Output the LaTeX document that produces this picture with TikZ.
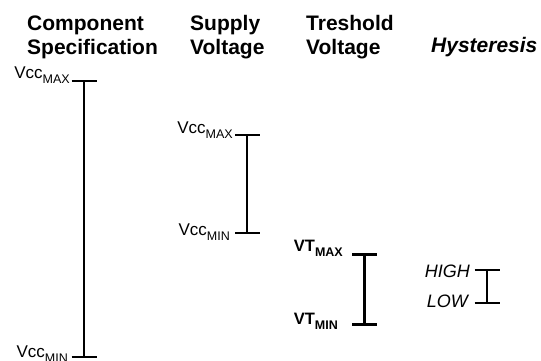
\documentclass[tikz,border=0pt]{standalone}
\usepackage{fontspec}
\setmainfont{Liberation Sans}
\usepackage{tikz}
\usetikzlibrary{positioning}
\newcommand\lsub[1]{\raisebox{-5pt}{\fontsize{12.5}{12.5}\selectfont #1}}

\begin{document}
\begin{tikzpicture}[x=1pt, y=-1pt,
        head/.style={font=\bfseries\fontsize{21}{24}\selectfont, align=left, inner sep=0pt, anchor=north west},
        lbl/.style={font=\fontsize{17}{20}\selectfont, inner sep=0pt, anchor=base east},
        vtlbl/.style={lbl, font=\bfseries\fontsize{16.5}{20}\selectfont},
        hylbl/.style={lbl, font=\itshape\fontsize{18}{20}\selectfont},
        bar/.style={line width=2pt},
        thickbar/.style={line width=3pt}
    ]
        \useasboundingbox (0,0) rectangle (541,360);
        % column headers
        \node[head] (hcomp) at (27,15.5) {Component\\Specification};
        \node[head] (hsup) at (190,15.5) {Supply\\Voltage};
        \node[head] (hthr) at (306,15) {Treshold\\Voltage};
        \node[head, anchor=base west, font=\bfseries\itshape\fontsize{21}{24}\selectfont] (hhys) at (431,52) {Hysteresis};
        % bar ends
        \coordinate (compmax) at (83.5,80.7);
        \coordinate (compmin) at (83.5,356.7);
        \coordinate (supmax) at (247,135);
        \coordinate (supmin) at (247,233.3);
        \coordinate (thrmax) at (364,254);
        \coordinate (thrmin) at (364,324.3);
        \coordinate (hyshigh) at (486.5,270);
        \coordinate (hyslow) at (486.5,302.7);
        % labels
        \node[lbl] (vccmaxA) at (70,78) {Vcc\lsub{MAX}};
        \node[lbl] (vccminA) at (68,357.5) {Vcc\lsub{MIN}};
        \node[lbl] (vccmaxB) at (233,133) {Vcc\lsub{MAX}};
        \node[lbl] (vccminB) at (230,235.5) {Vcc\lsub{MIN}};
        \node[vtlbl] (vtmax) at (343,251) {VT\lsub{MAX}};
        \node[vtlbl] (vtmin) at (338,324) {VT\lsub{MIN}};
        \node[hylbl] (high) at (470,277.7) {HIGH};
        \node[hylbl] (low) at (468,307.7) {LOW};
        % bars
        \draw[bar] (compmax) -- (compmin);
        \draw[bar] ([xshift=-12pt]compmax) -- ([xshift=13pt]compmax);
        \draw[bar] ([xshift=-12pt]compmin) -- ([xshift=13pt]compmin);
        \draw[bar] (supmax) -- (supmin);
        \draw[bar] ([xshift=-12pt]supmax) -- ([xshift=13pt]supmax);
        \draw[bar] ([xshift=-12pt]supmin) -- ([xshift=13pt]supmin);
        \draw[thickbar] (thrmax) -- (thrmin);
        \draw[thickbar] ([xshift=-12pt]thrmax) -- ([xshift=13pt]thrmax);
        \draw[thickbar] ([xshift=-12pt]thrmin) -- ([xshift=13pt]thrmin);
        \draw[bar] (hyshigh) -- (hyslow);
        \draw[bar] ([xshift=-12pt]hyshigh) -- ([xshift=13pt]hyshigh);
        \draw[bar] ([xshift=-12pt]hyslow) -- ([xshift=13pt]hyslow);
    \end{tikzpicture}
\end{document}
